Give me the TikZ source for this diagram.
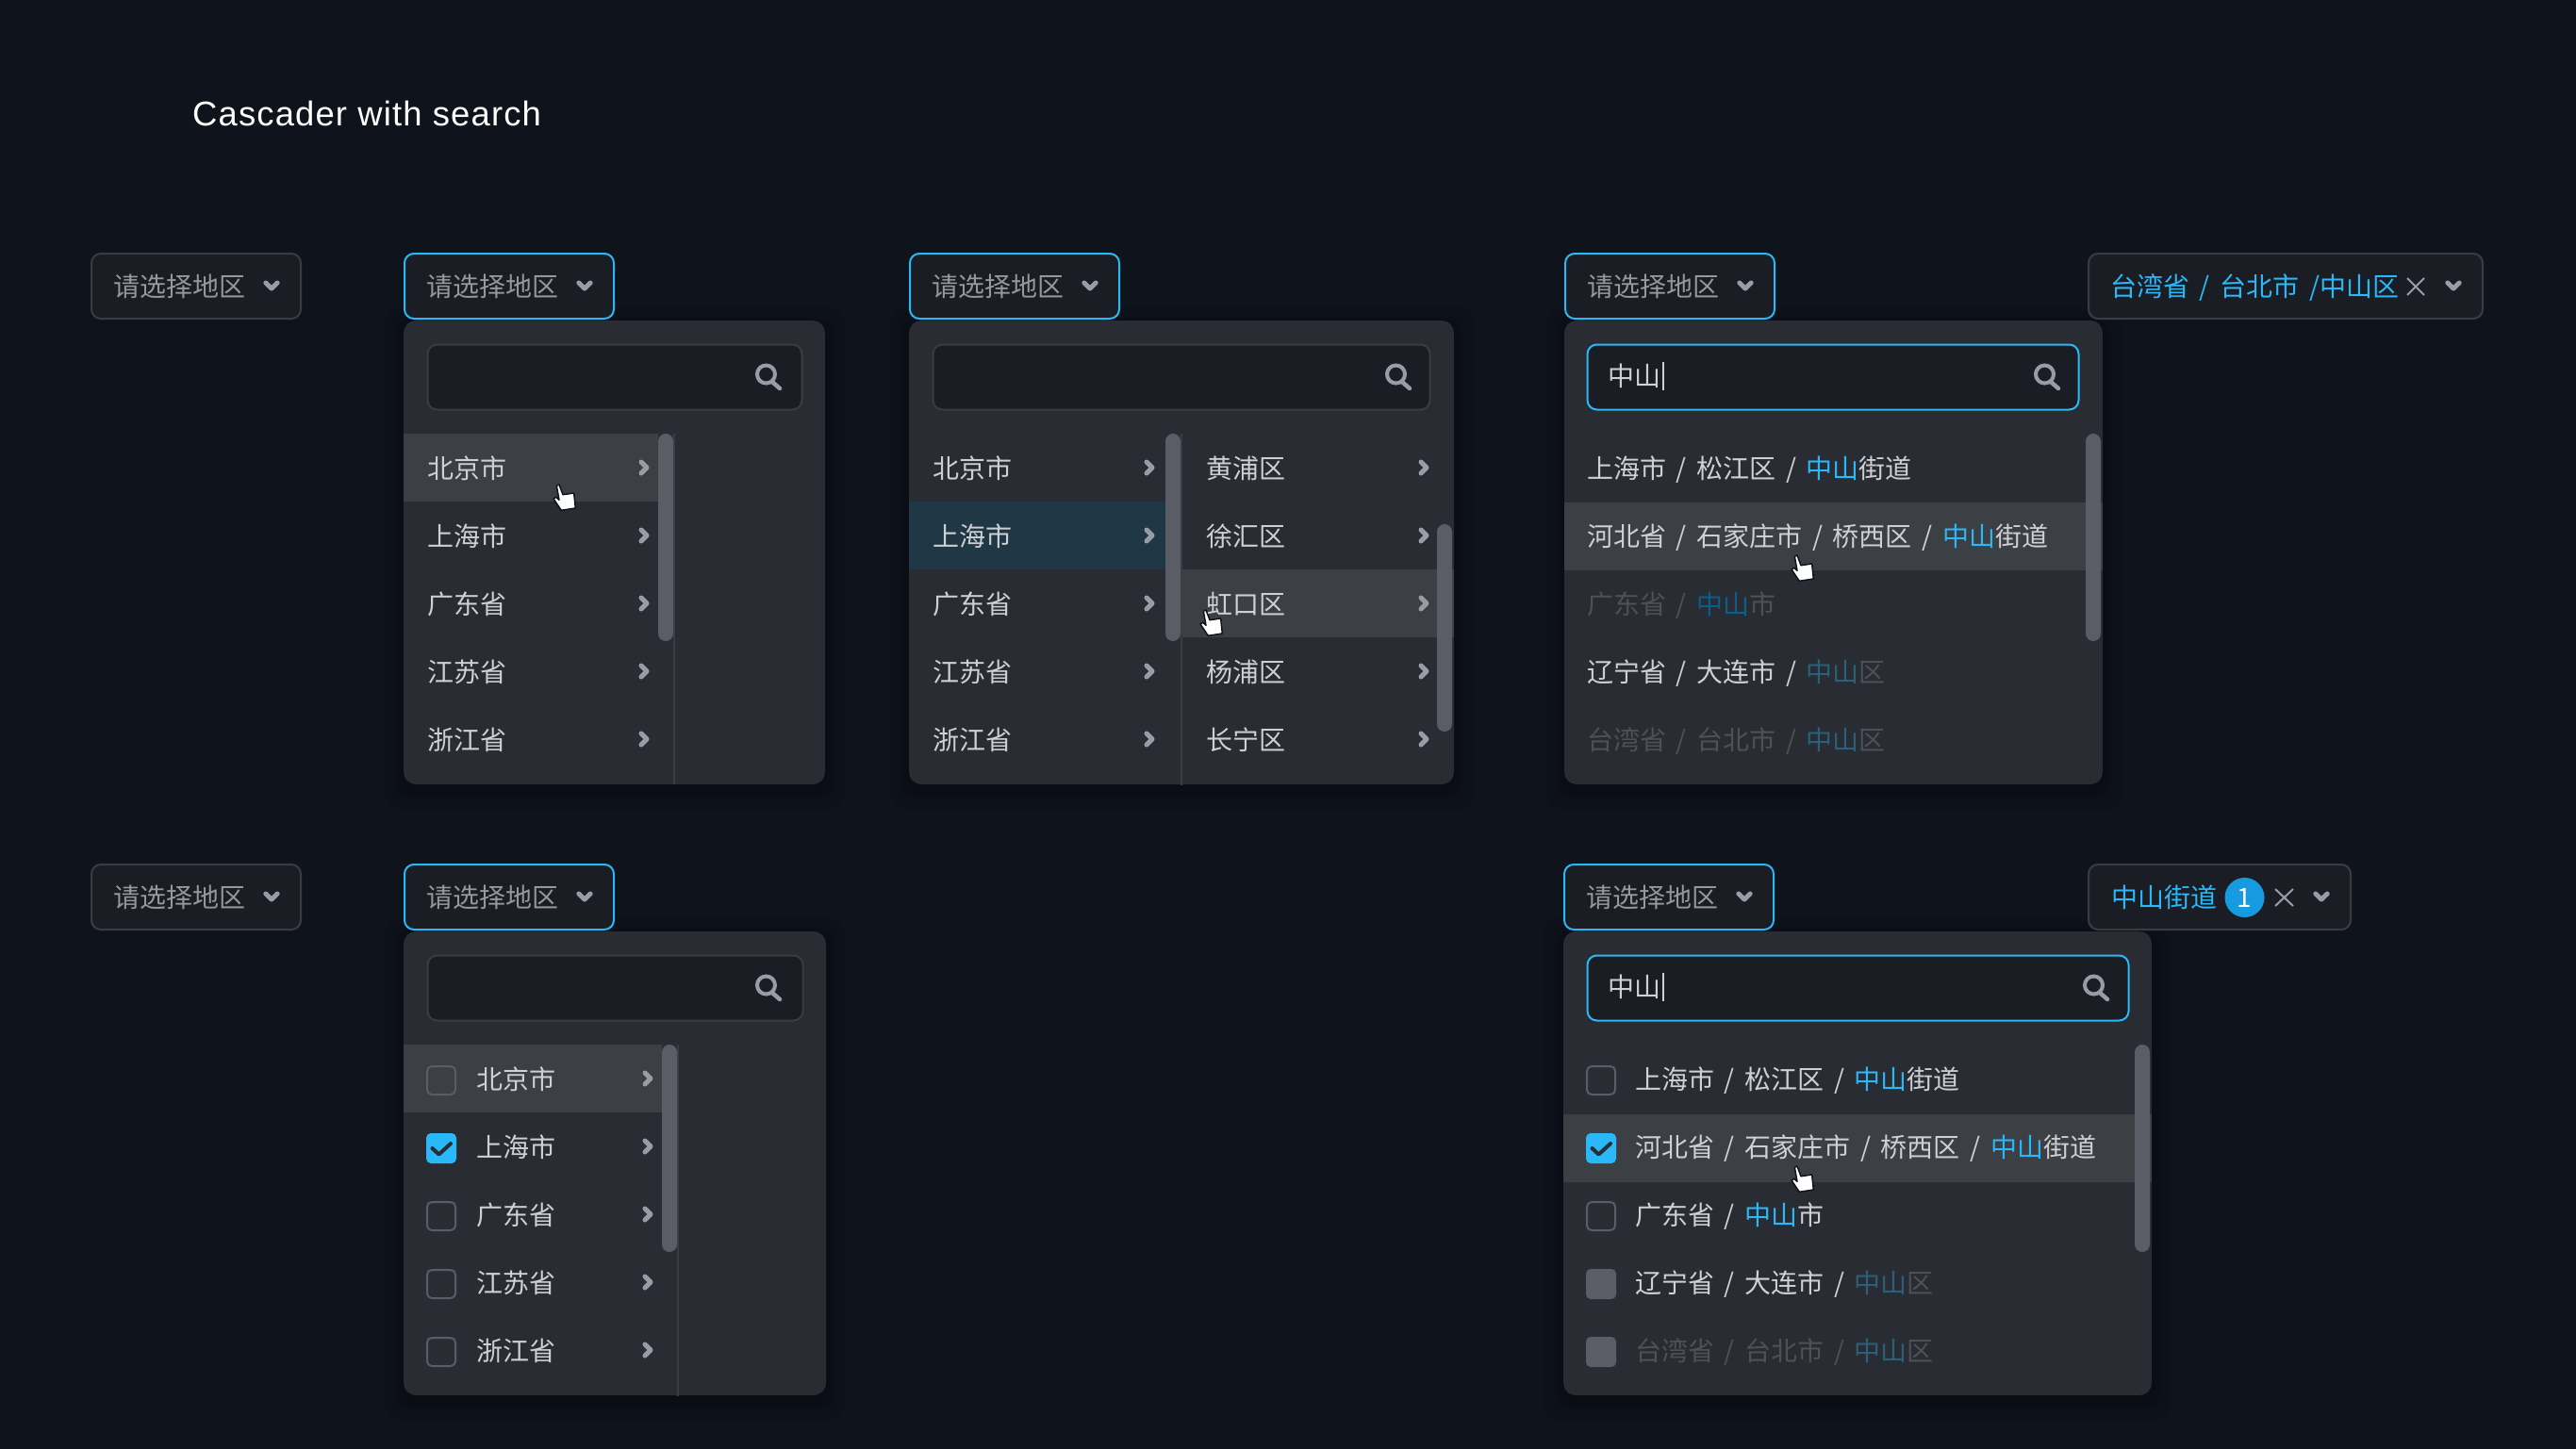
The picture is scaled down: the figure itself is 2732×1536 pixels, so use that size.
\documentclass[tikz,border=0pt]{standalone}
\usepackage{fontspec}
\setmainfont{Noto Sans CJK SC}
\newfontfamily\titlefont[LetterSpace=3.2]{Liberation Sans}
\definecolor{bgc}{HTML}{0F141C}
\definecolor{panelc}{HTML}{292C33}
\definecolor{btnc}{HTML}{1A1D24}
\definecolor{edgec}{HTML}{3A3C41}
\definecolor{hoverc}{HTML}{3C3F44}
\definecolor{selc}{HTML}{203746}
\definecolor{barc}{HTML}{5A5D65}
\definecolor{iconc}{HTML}{9A9CA5}
\definecolor{phc}{HTML}{96989E}
\definecolor{textc}{HTML}{CFD0D3}
\definecolor{accent}{HTML}{2BB8F8}
\definecolor{dimtxt}{HTML}{4E5158}
\definecolor{dimblue}{HTML}{2A6079}
\definecolor{deepblue}{HTML}{0B5E8C}
\definecolor{badgec}{HTML}{169BE0}
\tikzset{
  x=1pt,y=-1pt,
  btnbox/.style={fill=btnc,draw=edgec,line width=2pt,rounded corners=10pt},
  actbox/.style={fill=btnc,draw=accent,line width=2pt,rounded corners=10pt},
  panelbox/.style={fill=panelc,rounded corners=13pt},
  lbl/.style={anchor=base west,inner sep=0pt,text=textc,font=\fontsize{28pt}{30pt}\selectfont},
  ph/.style={lbl,text=phc},
  chev/.style={draw=iconc,line width=5pt,line cap=round,line join=round},
  scrollbar/.style={fill=barc,rounded corners=8pt},
  divider/.style={draw=edgec,line width=2pt},
  cb/.style={draw=barc,line width=2pt,rounded corners=5pt},
  cbon/.style={fill=accent,rounded corners=5pt},
  cboff/.style={fill=barc,rounded corners=5pt},
  tick/.style={draw=panelc,line width=4pt,line cap=round,line join=round},
  xicon/.style={draw=iconc,line width=2pt},
  hand/.style={fill=white,draw=bgc,line width=1.5pt,line join=round},
}
\newcommand{\sepa}{\hspace{10.7pt}/\hspace{10.7pt}}
\newcommand{\lb}[4]{\node[lbl] (#1) at (#2,#3+11) {#4};}
\newcommand{\cdown}[2]{\draw[chev] (#1-6.2,#2-3) -- (#1,#2+3) -- (#1+6.2,#2-3);}
\newcommand{\cright}[2]{\draw[chev] (#1-3,#2-6) -- (#1+3,#2) -- (#1-3,#2+6);}
\newcommand{\sicon}[2]{\draw[iconc,line width=4pt] (#1-1.5,#2-2) circle (9.5);\draw[iconc,line width=4.5pt,line cap=round] (#1+5.5,#2+6.5) -- (#1+13,#2+13);}
\newcommand{\pointer}[2]{\draw[hand] (#1+3.3,#2+1.3) -- (#1+6,#2) -- (#1+10,#2+10.7) -- (#1+21.7,#2+9) -- (#1+23.3,#2+25) -- (#1+8.3,#2+27.3) -- (#1,#2+15) -- (#1+2.7,#2+13.3) -- (#1+6,#2+16.3) -- cycle;}
\newcommand{\panelshadow}[4]{\foreach \g in {3,8,14,20}{\fill[black,opacity=.07,rounded corners=16pt] (#1-\g,#2-\g+6) rectangle (#3+\g,#4+\g+6);}\fill[panelbox] (#1,#2) rectangle (#3,#4);}
\newcommand{\plainbtn}[3]{\draw[btnbox] (#2+1,#3+1) rectangle (#2+223,#3+70);\node[ph] (#1) at (#2+24.5,#3+46.5) {请选择地区};\cdown{#2+192}{#3+35}}
\newcommand{\activebtn}[3]{\draw[actbox] (#2+1,#3+1) rectangle (#2+223,#3+70);\node[ph] (#1) at (#2+24.5,#3+46.5) {请选择地区};\cdown{#2+192}{#3+35}}
\newcommand{\unchecked}[2]{\draw[cb] (#1,#2-15) rectangle (#1+30,#2+15);}
\newcommand{\dimbox}[2]{\fill[cboff] (#1-1,#2-16) rectangle (#1+31,#2+16);}
\newcommand{\checked}[2]{\fill[cbon] (#1-1,#2-16) rectangle (#1+31,#2+16);\draw[tick] (#1+5.5,#2) -- (#1+12.5,#2+6.5) -- (#1+25,#2-5);}
\newcommand{\blue}[1]{\textcolor{accent}{#1}}
\begin{document}
\begin{tikzpicture}
\useasboundingbox (0,0) rectangle (2732,1536);
\fill[bgc] (-10,-10) rectangle (2742,1546);
\node[anchor=base west,inner sep=0pt,text=white,font=\titlefont\fontsize{36.4pt}{40pt}\selectfont] (title) at (204,134) {Cascader with search};

% ---------- row one ----------
\plainbtn{bA}{96}{268}

% panel A
\panelshadow{428}{340}{875}{832}
\activebtn{bB}{428}{268}
\draw[btnbox] (453.5,365.5) rectangle (850.5,434.5);
\sicon{814}{399}
\fill[hoverc] (428,460) rectangle (698,532);
\draw[divider] (715,460) -- (715,832);
\fill[scrollbar] (698,460) rectangle (714,680);
\lb{a1}{453}{496}{北京市}
\lb{a2}{453}{568}{上海市}
\lb{a3}{453}{640}{广东省}
\lb{a4}{453}{712}{江苏省}
\lb{a5}{453}{784}{浙江省}
\foreach \y in {496,568,640,712,784}{\cright{683}{\y}}
\pointer{587}{514}

% panel B
\panelshadow{964}{340}{1542}{832}
\activebtn{bC}{964}{268}
\draw[btnbox] (989.5,365.5) rectangle (1516.5,434.5);
\sicon{1482}{399}
\fill[selc] (964,532) rectangle (1236,604);
\fill[hoverc] (1254,604) rectangle (1542,676);
\draw[divider] (1253,460) -- (1253,833);
\fill[scrollbar] (1236,460) rectangle (1252,680);
\fill[scrollbar] (1524,556) rectangle (1540,776);
\lb{c1}{989}{496}{北京市}
\lb{c2}{989}{568}{上海市}
\lb{c3}{989}{640}{广东省}
\lb{c4}{989}{712}{江苏省}
\lb{c5}{989}{784}{浙江省}
\lb{d1}{1279}{496}{黄浦区}
\lb{d2}{1279}{568}{徐汇区}
\lb{d3}{1279}{640}{虹口区}
\lb{d4}{1279}{712}{杨浦区}
\lb{d5}{1279}{784}{长宁区}
\foreach \y in {496,568,640,712,784}{\cright{1219}{\y}\cright{1510}{\y}}
\pointer{1273}{647}

% panel C
\panelshadow{1659}{340}{2230}{832}
\activebtn{bD}{1659}{268}
\draw[actbox] (1683.5,365.5) rectangle (2204.5,434.5);
\sicon{2170}{399}
\lb{e0}{1705}{398.5}{中山}
\draw[textc,line width=1.5pt] (1764,384) -- (1764,414);
\fill[hoverc] (1659,533) rectangle (2230,605);
\fill[scrollbar] (2212,460) rectangle (2228,680);
\lb{e1}{1683}{496}{上海市\sepa 松江区\sepa\blue{中山}街道}
\lb{e2}{1683}{568}{河北省\sepa 石家庄市\sepa 桥西区\sepa\blue{中山}街道}
\lb{e3}{1683}{640}{\textcolor{dimtxt}{广东省\sepa}\textcolor{deepblue}{中山}\textcolor{dimtxt}{市}}
\lb{e4}{1683}{712}{辽宁省\sepa 大连市\sepa\textcolor{dimblue}{中山}\textcolor{dimtxt}{区}}
\lb{e5}{1683}{784}{\textcolor{dimtxt}{台湾省\sepa 台北市\sepa}\textcolor{dimblue}{中山}\textcolor{dimtxt}{区}}
\pointer{1900}{589}

% filled button top right
\draw[btnbox] (2215,269) rectangle (2633,338);
\node[lbl,text=accent] (f1) at (2238,314.5) {台湾省\sepa 台北市\hspace{10.7pt}/中山区};
\draw[xicon] (2553,295) -- (2571,313) (2571,295) -- (2553,313);
\cdown{2602}{303}

% ---------- row two ----------
\plainbtn{bE}{96}{916}

% panel D
\panelshadow{428}{988}{876}{1480}
\activebtn{bF}{428}{916}
\draw[btnbox] (453.5,1013.5) rectangle (851.5,1082.5);
\sicon{814}{1047}
\fill[hoverc] (428,1108) rectangle (702,1180);
\draw[divider] (719,1108) -- (719,1481);
\fill[scrollbar] (702,1108) rectangle (718,1328);
\unchecked{453}{1146}
\checked{453}{1218}
\unchecked{453}{1290}
\unchecked{453}{1362}
\unchecked{453}{1434}
\lb{g1}{505}{1144}{北京市}
\lb{g2}{505}{1216}{上海市}
\lb{g3}{505}{1288}{广东省}
\lb{g4}{505}{1360}{江苏省}
\lb{g5}{505}{1432}{浙江省}
\foreach \y in {1144,1216,1288,1360,1432}{\cright{687}{\y}}

% panel E
\panelshadow{1658}{988}{2282}{1480}
\activebtn{bG}{1658}{916}
\draw[actbox] (1683.5,1013.5) rectangle (2257.5,1082.5);
\sicon{2222}{1047}
\lb{h0}{1705}{1046.5}{中山}
\draw[textc,line width=1.5pt] (1764,1032) -- (1764,1062);
\fill[hoverc] (1658,1182) rectangle (2282,1254);
\fill[scrollbar] (2264,1108) rectangle (2280,1328);
\unchecked{1683}{1146}
\checked{1683}{1218}
\unchecked{1683}{1290}
\dimbox{1683}{1362}
\dimbox{1683}{1434}
\lb{h1}{1734}{1144}{上海市\sepa 松江区\sepa\blue{中山}街道}
\lb{h2}{1734}{1216}{河北省\sepa 石家庄市\sepa 桥西区\sepa\blue{中山}街道}
\lb{h3}{1734}{1288}{广东省\sepa\blue{中山}市}
\lb{h4}{1734}{1360}{辽宁省\sepa 大连市\sepa\textcolor{dimblue}{中山}\textcolor{dimtxt}{区}}
\lb{h5}{1734}{1432}{\textcolor{dimtxt}{台湾省\sepa 台北市\sepa}\textcolor{dimblue}{中山}\textcolor{dimtxt}{区}}
\pointer{1900}{1237}

% tag button bottom right
\draw[btnbox] (2215,917) rectangle (2493,986);
\node[lbl,text=accent] (j1) at (2239,962.5) {中山街道};
\fill[badgec] (2380.5,952) circle (21);
\node[lbl,anchor=base,text=white] (j2) at (2380.5,962) {1};
\draw[xicon] (2413,943) -- (2432,961) (2432,943) -- (2413,961);
\cdown{2462}{951}
\end{tikzpicture}
\end{document}
